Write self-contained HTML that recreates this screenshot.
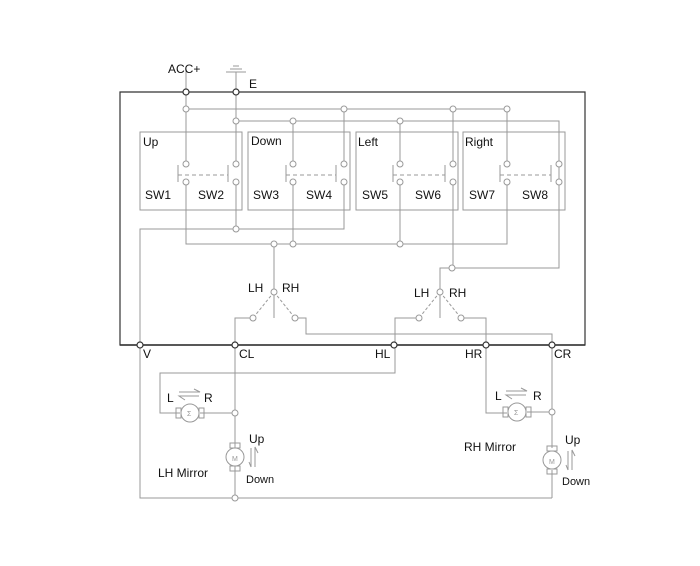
<!DOCTYPE html>
<html><head><style>body{margin:0;background:#fff}svg{display:block}text{font-family:"Liberation Sans",sans-serif;font-size:12px;fill:#111}</style></head><body>
<svg width="700" height="566" viewBox="0 0 700 566">
<g fill="none" stroke="#999" stroke-width="1">
<!-- switch boxes -->
<rect x="140" y="132" width="102" height="78"/>
<rect x="248" y="132" width="102" height="78"/>
<rect x="356" y="132" width="102" height="78"/>
<rect x="463" y="132" width="102" height="78"/>
<!-- top distribution -->
<path d="M186 92V164 M236 92V164 M186 109H507 M236 121H559V268H452 M344 109V164 M453 109V164 M507 109V164 M293 121V164 M400 121V164"/>
<!-- bottom contacts -->
<path d="M186 182V244H507V182 M236 182V229 M293 182V244 M400 182V244 M344 182V229H140V498H552 M453 182V268 M559 182V268"/>
<!-- LH/RH selector left -->
<path d="M274 244V292 M274 292V318 M253 318H235V345 M295 318H306V334H552V345"/>
<path d="M274 292L253 318 M274 292L295 318" stroke-dasharray="3,2"/>
<!-- right selector -->
<path d="M452 268H440V318 M419 318H395V373H160V413H180 M461 318H486V413H507"/>
<path d="M440 292L419 318 M440 292L461 318" stroke-dasharray="3,2"/>
<!-- LH mirror -->
<path d="M235 345V448 M200 413H235 M235 466V498"/>
<circle cx="190" cy="413" r="9"/><rect x="176" y="408" width="5" height="10"/><rect x="199" y="408" width="5" height="10"/>
<circle cx="235" cy="457" r="9"/><rect x="230" y="443" width="10" height="5"/><rect x="230" y="466" width="10" height="5"/>
<!-- RH mirror -->
<path d="M552 345V448 M527 412H552 M552 470V498"/>
<circle cx="517" cy="412" r="9"/><rect x="503" y="407" width="5" height="10"/><rect x="526" y="407" width="5" height="10"/>
<circle cx="552" cy="460" r="9"/><rect x="547" y="446" width="10" height="5"/><rect x="547" y="469" width="10" height="5"/>
<!-- arrows -->
<path d="M179 392H200L194 389 M199 396H179L185 400 M506 391H527L521 388 M526 395H506L512 399"/>
<path d="M251 448V467L249 462 M255 467V447L258 453 M568 451V470L566 465 M572 470V450L575 456"/>
<!-- switch dashed -->
<path d="M178 165V182 M228 165V182 M286 165V182 M336 165V182 M393 165V182 M445 165V182 M500 165V182 M551 165V182"/>
<path d="M178 175H228 M286 175H336 M393 175H445 M500 175H551" stroke-dasharray="4,3"/>
<!-- ground -->
<path d="M226 72H246 M230 69H242 M233 66H239 M236 72V92"/>
<path d="M186 70V92"/>
</g>
<!-- main box -->
<path d="M120 92H585V345H120Z" fill="none" stroke="#333" stroke-width="1.2"/>
<path d="M120 345H585" stroke="#333" stroke-width="1.6"/>
<g fill="#fff" stroke="#999">
<circle cx="186" cy="109" r="3"/><circle cx="344" cy="109" r="3"/><circle cx="453" cy="109" r="3"/><circle cx="507" cy="109" r="3"/>
<circle cx="236" cy="121" r="3"/><circle cx="293" cy="121" r="3"/><circle cx="400" cy="121" r="3"/>
<circle cx="186" cy="164" r="3"/><circle cx="236" cy="164" r="3"/><circle cx="293" cy="164" r="3"/><circle cx="344" cy="164" r="3"/><circle cx="400" cy="164" r="3"/><circle cx="453" cy="164" r="3"/><circle cx="507" cy="164" r="3"/><circle cx="559" cy="164" r="3"/>
<circle cx="186" cy="182" r="3"/><circle cx="236" cy="182" r="3"/><circle cx="293" cy="182" r="3"/><circle cx="344" cy="182" r="3"/><circle cx="400" cy="182" r="3"/><circle cx="453" cy="182" r="3"/><circle cx="507" cy="182" r="3"/><circle cx="559" cy="182" r="3"/>
<circle cx="236" cy="229" r="3"/><circle cx="274" cy="244" r="3"/><circle cx="293" cy="244" r="3"/><circle cx="400" cy="244" r="3"/><circle cx="452" cy="268" r="3"/>
<circle cx="274" cy="292" r="3"/><circle cx="253" cy="318" r="3"/><circle cx="295" cy="318" r="3"/>
<circle cx="440" cy="292" r="3"/><circle cx="419" cy="318" r="3"/><circle cx="461" cy="318" r="3"/>
<circle cx="235" cy="413" r="3"/><circle cx="552" cy="412" r="3"/><circle cx="235" cy="498" r="3"/>
</g>
<g fill="#fff" stroke="#333" stroke-width="1.2">
<circle cx="186" cy="92" r="3"/><circle cx="236" cy="92" r="3"/>
<circle cx="140" cy="345" r="3"/><circle cx="235" cy="345" r="3"/><circle cx="394" cy="345" r="3"/><circle cx="486" cy="345" r="3"/><circle cx="552" cy="345" r="3"/>
</g>
<text x="168" y="73">ACC+</text><text x="249" y="88">E</text>
<text x="143" y="146">Up</text><text x="251" y="145">Down</text><text x="358" y="146">Left</text><text x="465" y="146">Right</text>
<text x="145" y="199">SW1</text><text x="198" y="199">SW2</text><text x="253" y="199">SW3</text><text x="306" y="199">SW4</text><text x="362" y="199">SW5</text><text x="415" y="199">SW6</text><text x="469" y="199">SW7</text><text x="522" y="199">SW8</text>
<text x="248" y="292">LH</text><text x="282" y="292">RH</text>
<text x="414" y="297">LH</text><text x="449" y="297">RH</text>
<text x="143" y="358">V</text><text x="239" y="358">CL</text><text x="375" y="358">HL</text><text x="465" y="358">HR</text><text x="554" y="358">CR</text>
<text x="167" y="402">L</text><text x="204" y="402">R</text><text x="495" y="400">L</text><text x="533" y="400">R</text>
<text x="249" y="443">Up</text><text x="246" y="483" style="font-size:11px">Down</text>
<text x="565" y="444">Up</text><text x="562" y="485" style="font-size:11px">Down</text>
<text x="158" y="477">LH Mirror</text><text x="464" y="451">RH Mirror</text>
<text x="232" y="461" style="font-size:7px;fill:#999">M</text><text x="549" y="464" style="font-size:7px;fill:#999">M</text>
<text x="187" y="416" style="font-size:7px;fill:#999">Σ</text><text x="514" y="415" style="font-size:7px;fill:#999">Σ</text>
</svg>
</body></html>
